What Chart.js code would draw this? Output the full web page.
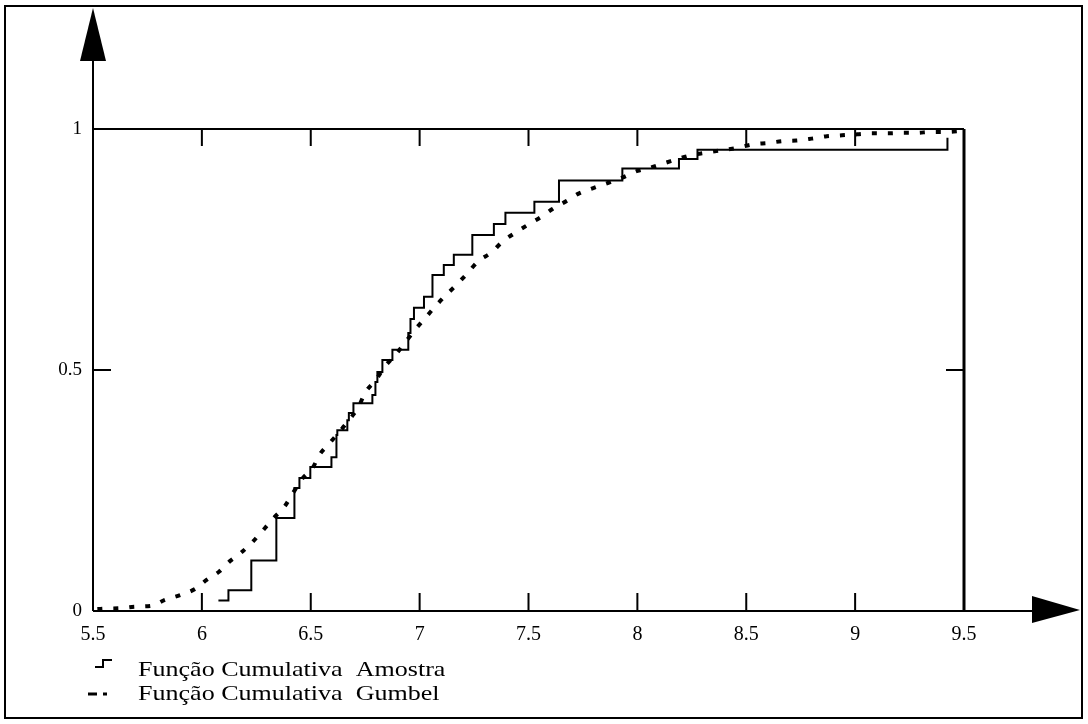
<!DOCTYPE html>
<html>
<head>
<meta charset="utf-8">
<title>Função Cumulativa</title>
<script src="https://cdn.jsdelivr.net/npm/chart.js@4.4.0/dist/chart.umd.min.js"></script>
<style>
	body{ margin:0; background:#fff; }
	#wrap{ width:1088px; height:724px; }
</style>
</head>
<body>
<div id="wrap"><canvas id="cdfChart" width="1088" height="724"></canvas></div>
<script>
// amostra (empirical cumulative, step levels)
var sampleX = [6.076, 6.122, 6.227, 6.342, 6.425, 6.448, 6.498, 6.595, 6.618, 6.622, 6.668, 6.675, 6.696,
	6.783, 6.797, 6.806, 6.829, 6.875, 6.948, 6.958, 6.974, 7.020, 7.059, 7.111, 7.157, 7.242, 7.341,
	7.394, 7.527, 7.640, 7.931, 8.191, 8.276, 9.424];
var sampleF = [0.022, 0.043, 0.105, 0.193, 0.255, 0.276, 0.299, 0.319, 0.365, 0.375, 0.396, 0.411, 0.431,
	0.448, 0.475, 0.496, 0.521, 0.542, 0.577, 0.606, 0.629, 0.652, 0.697, 0.718, 0.739, 0.780, 0.803,
	0.826, 0.849, 0.893, 0.918, 0.938, 0.957, 0.982];

// gumbel fit
var gumbelX = [5.52, 5.56, 5.63, 5.69, 5.77, 5.83, 5.90, 5.97, 6.02, 6.08, 6.13, 6.18, 6.23, 6.28, 6.33,
	6.38, 6.42, 6.46, 6.51, 6.54, 6.59, 6.67, 6.72, 6.75, 6.80, 6.84, 6.89, 6.94, 6.98, 7.03, 7.07, 7.12,
	7.17, 7.22, 7.27, 7.33, 7.38, 7.44, 7.50, 7.56, 7.61, 7.68, 7.73, 7.80, 7.87, 7.93, 8.00, 8.06, 8.13,
	8.20, 8.26, 8.33, 8.46, 8.53, 8.60, 8.67, 8.73, 8.80, 8.87, 8.94, 9.01, 9.08, 9.15, 9.22, 9.28, 9.35,
	9.42, 9.49];
var gumbelF = [0.004, 0.005, 0.006, 0.009, 0.011, 0.023, 0.033, 0.046, 0.064, 0.082, 0.104, 0.121, 0.142,
	0.167, 0.193, 0.217, 0.246, 0.274, 0.298, 0.324, 0.350, 0.393, 0.424, 0.453, 0.480, 0.507, 0.532,
	0.561, 0.584, 0.610, 0.631, 0.655, 0.677, 0.701, 0.726, 0.744, 0.766, 0.785, 0.802, 0.818, 0.834,
	0.852, 0.866, 0.878, 0.889, 0.899, 0.913, 0.920, 0.930, 0.940, 0.947, 0.952, 0.961, 0.968, 0.971,
	0.975, 0.976, 0.980, 0.985, 0.987, 0.989, 0.991, 0.991, 0.992, 0.992, 0.994, 0.994, 0.996];

var xTicks = [5.5, 6, 6.5, 7, 7.5, 8, 8.5, 9, 9.5];
var yTicks = [0, 0.5, 1];

var legendNames = ["Função Cumulativa  Amostra", "Função Cumulativa  Gumbel"];

function toPoints(xs, ys){
	var pts = [];
	for(var i = 0; i < xs.length; i++){
		pts.push({x: xs[i], y: ys[i]});
	}
	return pts;
}

function tri(ctx, a, b, c){
	ctx.beginPath();
	ctx.moveTo(a[0], a[1]);
	ctx.lineTo(b[0], b[1]);
	ctx.lineTo(c[0], c[1]);
	ctx.closePath();
	ctx.fill();
}

// frame, box, inward ticks and the two arrows
var framePlugin = {
	id: 'frame',
	beforeDatasetsDraw: function(chart){
		var ctx = chart.ctx;
		var xs = chart.scales.x, ys = chart.scales.y;
		var left = xs.getPixelForValue(5.5), right = xs.getPixelForValue(9.5);
		var top = ys.getPixelForValue(1), bottom = ys.getPixelForValue(0);
		ctx.save();
		ctx.strokeStyle = '#000';
		ctx.fillStyle = '#000';

		ctx.lineWidth = 2;
		ctx.strokeRect(5, 6, 1077, 712);

		// axes run out to the arrow heads
		ctx.beginPath();
		ctx.moveTo(left, bottom);
		ctx.lineTo(left, 58);
		ctx.moveTo(left, bottom);
		ctx.lineTo(1034, bottom);
		ctx.moveTo(left, top);
		ctx.lineTo(right, top);
		ctx.stroke();

		ctx.lineWidth = 3;
		ctx.beginPath();
		ctx.moveTo(right, top);
		ctx.lineTo(right, bottom);
		ctx.stroke();

		tri(ctx, [left, 8], [left - 13, 61], [left + 13, 61]);
		tri(ctx, [1080, bottom - 1], [1032, bottom - 15], [1032, bottom + 12]);

		ctx.lineWidth = 2;
		ctx.beginPath();
		xTicks.forEach(function(v){
			if(v == 5.5 || v == 9.5) return;
			var px = xs.getPixelForValue(v);
			ctx.moveTo(px, bottom);
			ctx.lineTo(px, bottom - 18);
			ctx.moveTo(px, top);
			ctx.lineTo(px, top + 17);
		});
		yTicks.forEach(function(v){
			if(v == 0 || v == 1) return;
			var py = ys.getPixelForValue(v);
			ctx.moveTo(left, py);
			ctx.lineTo(left + 18, py);
			ctx.moveTo(right, py);
			ctx.lineTo(right - 18, py);
		});
		ctx.stroke();
		ctx.restore();
	}
};

// legend under the axis, text is a bit wide like the print
var legendPlugin = {
	id: 'legendRows',
	afterDraw: function(chart){
		var ctx = chart.ctx;
		ctx.save();
		ctx.strokeStyle = '#000';
		ctx.fillStyle = '#000';
		ctx.lineWidth = 2;
		ctx.beginPath();
		ctx.moveTo(95, 667);
		ctx.lineTo(103, 667);
		ctx.lineTo(103, 660);
		ctx.lineTo(112, 660);
		ctx.stroke();

		ctx.lineWidth = 3;
		ctx.beginPath();
		ctx.moveTo(88, 694);
		ctx.lineTo(97, 694);
		ctx.moveTo(103, 694);
		ctx.lineTo(107, 694);
		ctx.stroke();

		ctx.font = '21px "Liberation Serif", "Times New Roman", serif';
		ctx.textBaseline = 'alphabetic';
		var rows = [676, 700];
		for(var i = 0; i < legendNames.length; i++){
			ctx.save();
			ctx.translate(138, rows[i]);
			ctx.scale(1.24, 1);
			ctx.fillText(legendNames[i], 0, 0);
			ctx.restore();
		}
		ctx.restore();
	}
};

function plainLabel(value){
	return String(value);
}

const CHART = document.getElementById("cdfChart");
let cdfChart = new Chart(CHART, {
	type: 'scatter',
	data: {
		datasets: [
			{
				label: legendNames[0],
				data: toPoints(sampleX, sampleF),
				showLine: true,
				stepped: 'before',
				borderColor: '#000',
				borderWidth: 2,
				pointRadius: 0,
				fill: false
			},
			{
				label: legendNames[1],
				data: toPoints(gumbelX, gumbelF),
				showLine: true,
				borderColor: '#000',
				borderWidth: 4,
				borderDash: [5, 11],
				borderCapStyle: 'butt',
				cubicInterpolationMode: 'monotone',
				pointRadius: 0,
				fill: false
			}
		]
	},
	options: {
		responsive: false,
		animation: false,
		devicePixelRatio: 1,
		layout: { padding: { top: 129, right: 124, left: 0, bottom: 0 } },
		plugins: {
			legend: { display: false },
			tooltip: { enabled: false }
		},
		scales: {
			x: {
				type: 'linear',
				min: 5.5,
				max: 9.5,
				afterBuildTicks: function(scale){
					scale.ticks = xTicks.map(function(v){ return {value: v}; });
				},
				afterFit: function(scale){ scale.height = 113; },
				grid: { display: false, drawTicks: false },
				border: { display: false },
				ticks: {
					color: '#000',
					padding: 12,
					maxRotation: 0,
					callback: plainLabel,
					font: { family: '"Liberation Serif", serif', size: 20 }
				}
			},
			y: {
				type: 'linear',
				min: 0,
				max: 1,
				afterBuildTicks: function(scale){
					scale.ticks = yTicks.map(function(v){ return {value: v}; });
				},
				afterFit: function(scale){ scale.width = 93; },
				grid: { display: false, drawTicks: false },
				border: { display: false },
				ticks: {
					color: '#000',
					padding: 11,
					callback: plainLabel,
					font: { family: '"Liberation Serif", serif', size: 19 }
				}
			}
		}
	},
	plugins: [framePlugin, legendPlugin]
});
</script>
</body>
</html>
